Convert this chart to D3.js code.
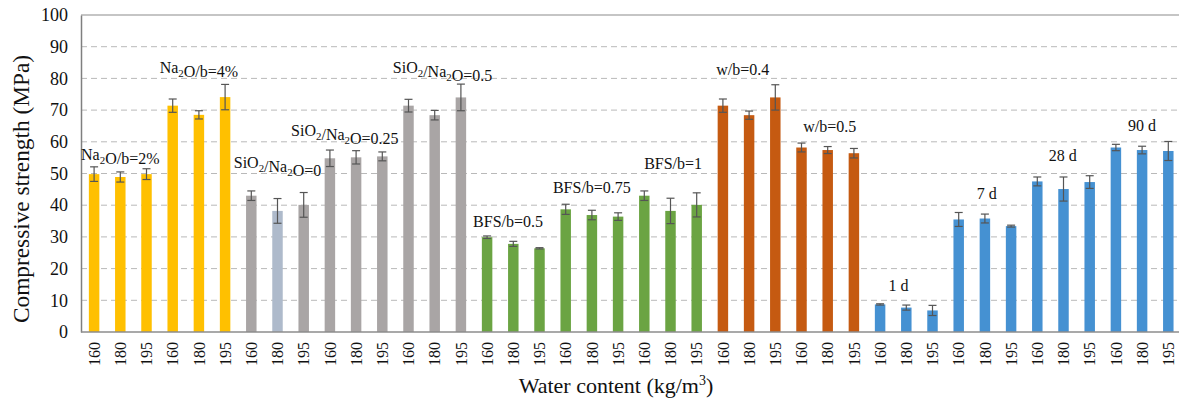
<!DOCTYPE html>
<html>
<head>
<meta charset="utf-8">
<script src="https://cdn.jsdelivr.net/npm/d3@7/dist/d3.min.js"></script>
<style>
  html, body { margin: 0; padding: 0; background: #fff; }
  svg text { font-family: "Times New Roman", "Liberation Serif", Tinos, "DejaVu Serif", serif !important; }
</style>
</head>
<body>
<svg id="chart" width="1179" height="400"></svg>
<script>
// ---- Data ----
const waterContent = [
  "160","180","195","160","180","195",
  "160","180","195","160","180","195","160","180","195",
  "160","180","195","160","180","195","160","180","195",
  "160","180","195","160","180","195",
  "160","180","195","160","180","195","160","180","195","160","180","195"
];
const strength = [
  49.8, 48.9, 49.8, 71.4, 68.5, 74.1,
  43.0, 38.2, 40.1, 54.8, 55.1, 55.4, 71.4, 68.4, 74.0,
  29.9, 27.8, 26.4, 38.7, 36.9, 36.4, 43.0, 38.2, 40.1,
  71.4, 68.4, 74.0, 58.2, 57.4, 56.4,
  8.7, 7.7, 6.8, 35.5, 35.8, 33.4, 47.5, 45.1, 47.3, 58.2, 57.4, 57.1
];
const errorBar = [
  2.3, 1.6, 1.7, 2.1, 1.3, 4.0,
  1.5, 3.9, 3.9, 2.6, 2.1, 1.4, 2.0, 1.5, 4.2,
  0.4, 0.8, 0.2, 1.6, 1.5, 1.2, 1.5, 4.0, 3.8,
  2.1, 1.3, 4.0, 1.4, 1.1, 1.5,
  0.2, 0.8, 1.6, 2.2, 1.4, 0.3, 1.4, 3.8, 2.0, 1.0, 1.2, 3.0
];
const seriesGroup = [
  "Na2O","Na2O","Na2O","Na2O","Na2O","Na2O",
  "SiO2","SiO2ref","SiO2","SiO2","SiO2","SiO2","SiO2","SiO2","SiO2",
  "BFS","BFS","BFS","BFS","BFS","BFS","BFS","BFS","BFS",
  "wb","wb","wb","wb","wb","wb",
  "age","age","age","age","age","age","age","age","age","age","age","age"
];
// group annotations: text ("_x" = subscript), bar index of centre, value of baseline
const labelText  = ["Na_2O/b=2%","Na_2O/b=4%","SiO_2/Na_2O=0","SiO_2/Na_2O=0.25","SiO_2/Na_2O=0.5",
                    "BFS/b=0.5","BFS/b=0.75","BFS/b=1","w/b=0.4","w/b=0.5","1 d","7 d","28 d","90 d"];
const labelAtBar = [1, 4, 7, 9.57, 13.3, 15.8, 19.0, 22.1, 24.76, 28.08, 30.7, 34.07, 36.97, 40.0];
const labelAtVal = [54.3, 81.7, 51.7, 61.8, 81.7, 33.1, 43.8, 51.4, 81.2, 63.1, 12.9, 42.0, 53.9, 63.4];
const yTicks = [0,10,20,30,40,50,60,70,80,90,100];

// ---- Styles ----
const colors = { Na2O: "#FFC000", SiO2: "#A9A5A5", SiO2ref: "#AEBACB", BFS: "#6BA443", wb: "#C55A11", age: "#4591D2" };
const FONT = "'Times New Roman', 'Liberation Serif', Tinos, 'DejaVu Serif', serif";

const svg = d3.select("#chart");
const x = d3.scaleBand().domain(d3.range(strength.length)).range([81, 81 + 42 * 26.2]).paddingInner(0.6).paddingOuter(0.3);
const y = d3.scaleLinear().domain([0, 100]).range([332, 15]);

// gridlines
svg.append("g").selectAll("line").data(yTicks.filter(t => t > 0 && t < 100)).join("line")
  .attr("x1", 81).attr("x2", 1179).attr("y1", d => y(d)).attr("y2", d => y(d))
  .attr("stroke", "#B9B9B9").attr("stroke-width", 1).attr("stroke-dasharray", "6,4");

// frame top
svg.append("line").attr("x1", 81).attr("x2", 1179).attr("y1", y(100)).attr("y2", y(100))
  .attr("stroke", "#8C8C8C").attr("stroke-width", 1.2);

// bars
const bw = x.bandwidth();
svg.append("g").selectAll("rect").data(strength).join("rect")
  .attr("x", (d, i) => x(i)).attr("width", bw)
  .attr("y", d => y(d)).attr("height", d => y(0) - y(d))
  .attr("fill", (d, i) => colors[seriesGroup[i]]);

// error bars
const eg = svg.append("g").attr("stroke", "#555").attr("stroke-width", 1.2);
strength.forEach((v, i) => {
  const cx = x(i) + bw / 2, e = errorBar[i];
  eg.append("line").attr("x1", cx).attr("x2", cx).attr("y1", y(v + e)).attr("y2", y(v - e));
  eg.append("line").attr("x1", cx - 4).attr("x2", cx + 4).attr("y1", y(v + e)).attr("y2", y(v + e));
  eg.append("line").attr("x1", cx - 4).attr("x2", cx + 4).attr("y1", y(v - e)).attr("y2", y(v - e));
});

// y axis
const yAxis = svg.append("g").attr("transform", "translate(81,0)")
  .call(d3.axisLeft(y).tickValues(yTicks).tickSize(0).tickPadding(13));
yAxis.attr("font-family", FONT);
yAxis.select(".domain").attr("stroke", "#7F7F7F").attr("stroke-width", 1.5);
yAxis.selectAll("text").attr("font-family", FONT).attr("font-size", 18).attr("fill", "#111");

// x axis
const xAxis = svg.append("g").attr("transform", "translate(0,332)")
  .call(d3.axisBottom(x).tickSize(0).tickFormat(i => waterContent[i]));
xAxis.attr("font-family", FONT);
xAxis.select(".domain").attr("stroke", "#8C8C8C").attr("stroke-width", 1.5).attr("d", "M81,0H1179");
xAxis.selectAll("text")
  .attr("font-family", FONT).attr("font-size", 16).attr("fill", "#111")
  .attr("transform", "rotate(-90)").attr("text-anchor", "end")
  .attr("x", -10).attr("y", 0).attr("dy", "0.35em");

// group labels
function richText(sel, s, base) {
  const parts = s.split(/(_.)/);
  parts.forEach(p => {
    if (p.startsWith("_")) {
      sel.append("tspan").attr("font-size", base * 0.68).attr("dy", 4).text(p.slice(1));
      sel.append("tspan").attr("dy", -4).text("");
    } else if (p.length) {
      sel.append("tspan").text(p);
    }
  });
}
labelText.forEach((t, i) => {
  const cx = x(0) + bw / 2 + labelAtBar[i] * x.step();
  const txt = svg.append("text").attr("x", cx).attr("y", y(labelAtVal[i]))
    .attr("text-anchor", "middle").attr("font-family", FONT).attr("font-size", 16).attr("fill", "#111");
  richText(txt, t, 16);
});

// axis titles
svg.append("text").attr("transform", "translate(29,189) rotate(-90)")
  .attr("text-anchor", "middle").attr("font-family", FONT).attr("font-size", 23).attr("fill", "#111")
  .attr("textLength", 268).attr("lengthAdjust", "spacingAndGlyphs")
  .text("Compressive strength (MPa)");
const xt = svg.append("text").attr("x", 616).attr("y", 393).attr("text-anchor", "middle")
  .attr("font-family", FONT).attr("font-size", 22).attr("fill", "#111");
xt.append("tspan").text("Water content (kg/m");
xt.append("tspan").attr("font-size", 14).attr("dy", -8).text("3");
xt.append("tspan").attr("dy", 8).text(")");
</script>
</body>
</html>
